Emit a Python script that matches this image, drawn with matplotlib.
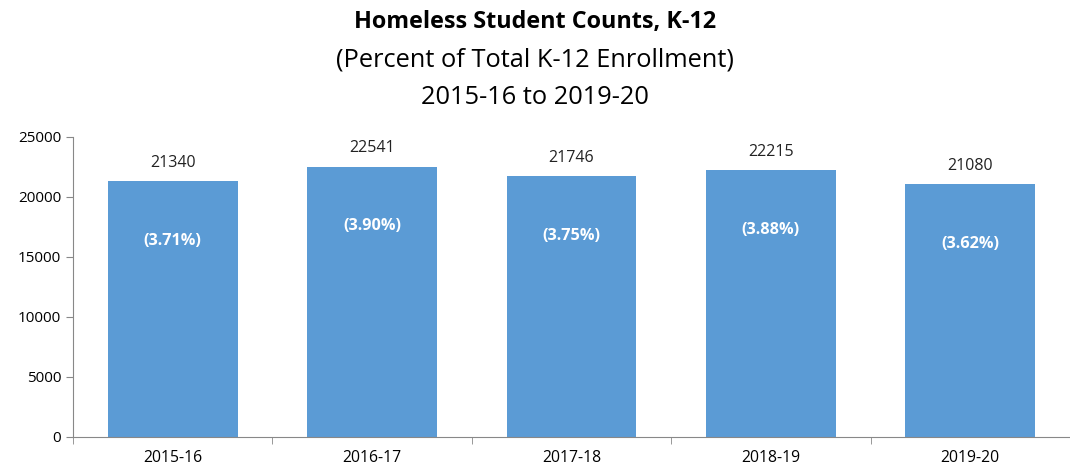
import matplotlib.pyplot as plt

years = ['2015-16', '2016-17', '2017-18', '2018-19', '2019-20']
counts = [21340, 22541, 21746, 22215, 21080]
percents = ['(3.71%)', '(3.90%)', '(3.75%)', '(3.88%)', '(3.62%)']

plt.rcParams['font.family'] = ['Open Sans', 'DejaVu Sans']

fig = plt.figure(figsize=(10.7, 4.68), dpi=100)
ax = fig.add_axes([73 / 1070, 1 - 437 / 468, 1 - 73 / 1070, 300 / 468])

x = range(len(years))
bars = ax.bar(x, counts, width=0.65, color='#5B9BD5')

for xi, c, p in zip(x, counts, percents):
    ax.annotate(str(c), (xi, c), xytext=(0, 13), textcoords='offset points',
                ha='center', va='center', fontsize=11.5, color='#222222')
    ax.annotate(p, (xi, c), xytext=(0, -43), textcoords='offset points',
                ha='center', va='center', fontsize=11.7, color='white',
                fontweight='bold')

ax.set_ylim(0, 25000)
ax.set_yticks(range(0, 25001, 5000))
ax.set_xlim(-0.5, 4.475)
ax.set_xticks(x)
ax.set_xticklabels(years)
ax.set_xticks([i + 0.5 for i in range(-1, 5)], minor=True)
ax.tick_params(axis='x', which='major', length=0, labelsize=11.3, pad=9)
ax.tick_params(axis='x', which='minor', length=5, color='#888888')
ax.tick_params(axis='y', length=5, color='#888888', labelsize=11)

for s in ['top', 'right']:
    ax.spines[s].set_visible(False)
for s in ['left', 'bottom']:
    ax.spines[s].set_color('#888888')

fig.text(0.5, 1 - 22 / 468, 'Homeless Student Counts, K-12', ha='center',
         va='center', fontsize=16.8, fontweight='bold')
fig.text(0.5, 1 - 60 / 468, '(Percent of Total K-12 Enrollment)', ha='center',
         va='center', fontsize=18.3)
fig.text(0.5, 1 - 97 / 468, '2015-16 to 2019-20', ha='center',
         va='center', fontsize=18.3)

fig.savefig('out.png', dpi=100)
